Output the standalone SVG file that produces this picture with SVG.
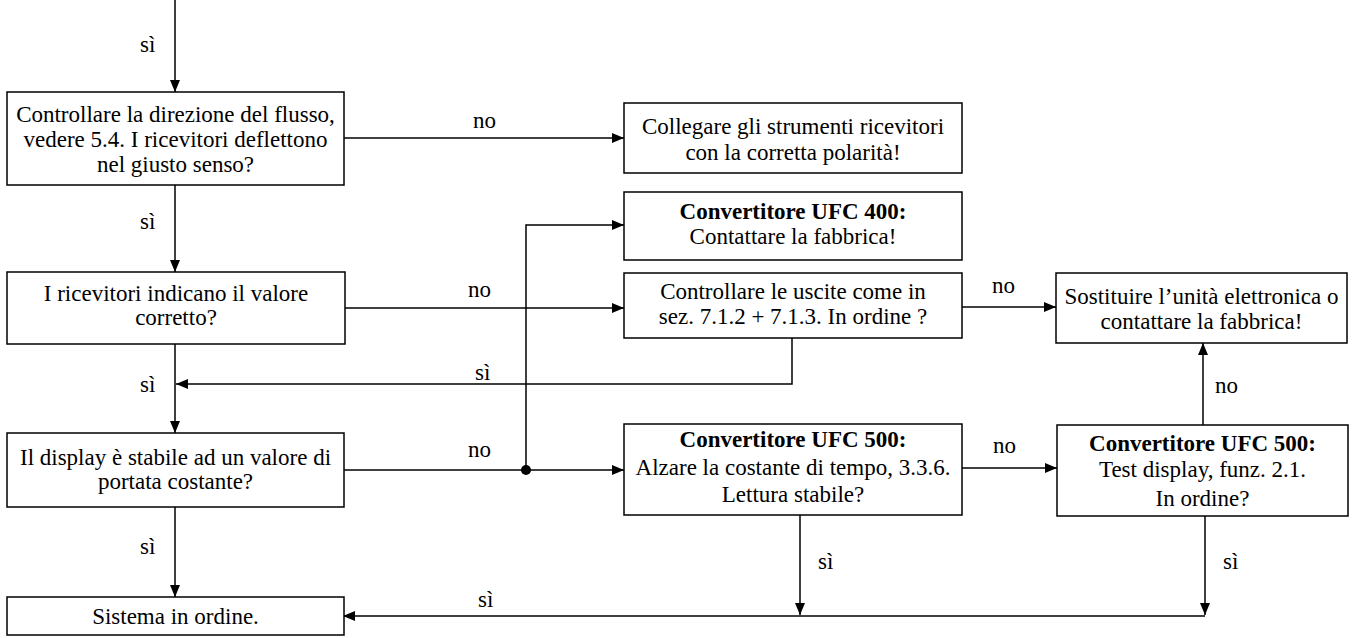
<svg xmlns="http://www.w3.org/2000/svg" width="1358" height="638" viewBox="0 0 1358 638">
<style>
  .box { fill: #ffffff; stroke: #000000; stroke-width: 1.5; }
  .t { font-family: 'Liberation Serif', 'DejaVu Serif', serif; font-size: 23px; fill: #000000; text-anchor: middle; }
  .b { font-weight: bold; }
  .lbl { font-family: 'Liberation Serif', 'DejaVu Serif', serif; font-size: 23px; fill: #000000; }
  .arr { fill: none; stroke: #000000; stroke-width: 1.5; marker-end: url(#ah); }
</style>
<defs>
  <marker id="ah" viewBox="0 0 12 10" refX="12" refY="5" markerWidth="12" markerHeight="10" markerUnits="userSpaceOnUse" orient="auto">
    <path d="M0,0 L12,5 L0,10 Z" fill="#000000"/>
  </marker>
</defs>
<rect width="1358" height="638" fill="#ffffff"/>

<g id="connectors">
  <line class="arr" x1="175" y1="0" x2="175" y2="92"/>
  <line class="arr" x1="175" y1="185" x2="175" y2="272"/>
  <line class="arr" x1="344" y1="138" x2="624" y2="138"/>
  <line class="arr" x1="345" y1="308" x2="624" y2="308"/>
  <polyline class="arr" points="792,338 792,384 176,384"/>
  <line class="arr" x1="175" y1="344" x2="175" y2="433"/>
  <line class="arr" x1="344" y1="470" x2="624" y2="470"/>
  <polyline class="arr" points="526,470 526,225 624,225"/>
  <circle cx="526" cy="470" r="5" fill="#000000"/>
  <line class="arr" x1="175" y1="507" x2="175" y2="597"/>
  <line class="arr" x1="962" y1="307" x2="1056" y2="307"/>
  <line class="arr" x1="962" y1="468" x2="1057" y2="468"/>
  <line class="arr" x1="1203" y1="425" x2="1203" y2="343"/>
  <line class="arr" x1="800" y1="515" x2="800" y2="615"/>
  <line class="arr" x1="1205" y1="516" x2="1205" y2="615"/>
  <line class="arr" x1="1205" y1="616" x2="343" y2="616"/>

  <text class="lbl" x="140" y="52">sì</text>
  <text class="lbl" x="140" y="229">sì</text>
  <text class="lbl" x="473" y="128">no</text>
  <text class="lbl" x="468" y="297">no</text>
  <text class="lbl" x="475" y="380">sì</text>
  <text class="lbl" x="140" y="392">sì</text>
  <text class="lbl" x="468" y="457">no</text>
  <text class="lbl" x="140" y="554">sì</text>
  <text class="lbl" x="992" y="293">no</text>
  <text class="lbl" x="993" y="453">no</text>
  <text class="lbl" x="1215" y="393">no</text>
  <text class="lbl" x="818" y="569">sì</text>
  <text class="lbl" x="1223" y="569">sì</text>
  <text class="lbl" x="478" y="607">sì</text>
</g>

<g id="n1">
  <rect class="box" x="7" y="92" width="337" height="93"/>
  <text class="t" x="175.5" y="122">Controllare la direzione del flusso,</text>
  <text class="t" x="175.5" y="147">vedere 5.4. I ricevitori deflettono</text>
  <text class="t" x="175.5" y="172">nel giusto senso?</text>
</g>
<g id="n2">
  <rect class="box" x="7" y="272" width="338" height="72"/>
  <text class="t" x="176" y="301">I ricevitori indicano il valore</text>
  <text class="t" x="176" y="325">corretto?</text>
</g>
<g id="n3">
  <rect class="box" x="7" y="433" width="337" height="74"/>
  <text class="t" x="175.5" y="465">Il display è stabile ad un valore di</text>
  <text class="t" x="175.5" y="489">portata costante?</text>
</g>
<g id="n4">
  <rect class="box" x="7" y="597" width="337" height="38"/>
  <text class="t" x="175.5" y="624">Sistema in ordine.</text>
</g>
<g id="n5">
  <rect class="box" x="624" y="103" width="338" height="70"/>
  <text class="t" x="793" y="134">Collegare gli strumenti ricevitori</text>
  <text class="t" x="793" y="160">con la corretta polarità!</text>
</g>
<g id="n6">
  <rect class="box" x="624" y="192" width="338" height="68"/>
  <text class="t b" x="793" y="219">Convertitore UFC 400:</text>
  <text class="t" x="793" y="244">Contattare la fabbrica!</text>
</g>
<g id="n7">
  <rect class="box" x="624" y="273" width="338" height="65"/>
  <text class="t" x="793" y="299">Controllare le uscite come in</text>
  <text class="t" x="793" y="324">sez. 7.1.2 + 7.1.3. In ordine ?</text>
</g>
<g id="n8">
  <rect class="box" x="624" y="424" width="338" height="91"/>
  <text class="t b" x="793" y="447">Convertitore UFC 500:</text>
  <text class="t" x="793" y="475">Alzare la costante di tempo, 3.3.6.</text>
  <text class="t" x="793" y="502">Lettura stabile?</text>
</g>
<g id="n9">
  <rect class="box" x="1056" y="273" width="291" height="70"/>
  <text class="t" x="1201.5" y="304">Sostituire l’unità elettronica o</text>
  <text class="t" x="1201.5" y="329">contattare la fabbrica!</text>
</g>
<g id="n10">
  <rect class="box" x="1057" y="425" width="291" height="91"/>
  <text class="t b" x="1202.5" y="451">Convertitore UFC 500:</text>
  <text class="t" x="1202.5" y="477">Test display, funz. 2.1.</text>
  <text class="t" x="1202.5" y="506">In ordine?</text>
</g>
</svg>
